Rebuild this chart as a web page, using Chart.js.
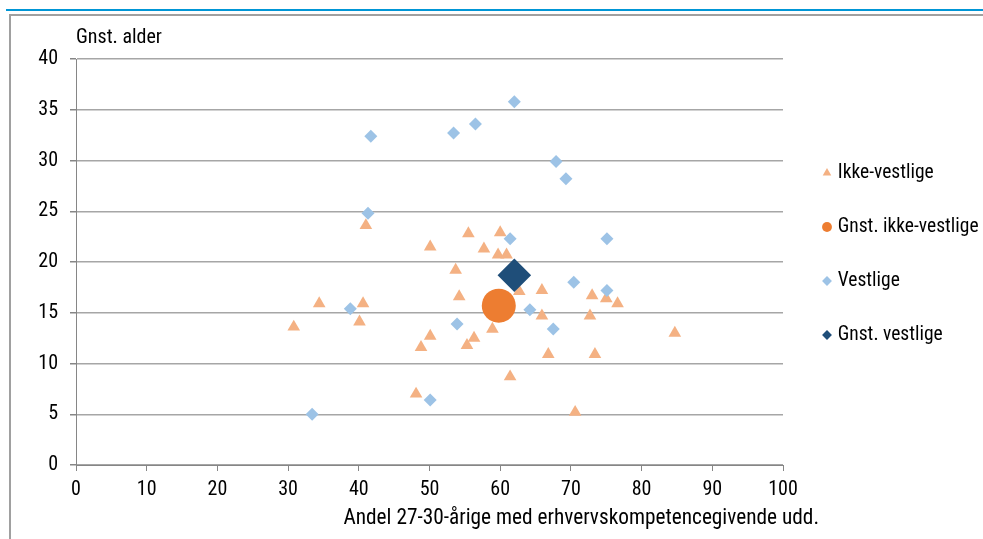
<!DOCTYPE html>
<html>
<head>
<meta charset="utf-8">
<script src="https://cdn.jsdelivr.net/npm/chart.js@4/dist/chart.umd.min.js"></script>
<style>
  html, body { margin: 0; padding: 0; width: 983px; height: 539px; overflow: hidden; background: #fff; }
  #blue { position: absolute; left: 6px; top: 9px; width: 977px; height: 2px; background: #0096D6; }
  #frame { position: absolute; left: 9px; top: 14px; width: 1000px; height: 600px; border-left: 2px solid #A0A0A0; border-top: 2px solid #A0A0A0; }
  #c { position: absolute; left: 11px; top: 16px; }
</style>
</head>
<body>
<div id="blue"></div>
<div id="frame"></div>
<canvas id="c" width="972" height="523"></canvas>
<script>
// ---- data ----
const seriesNames = ['Ikke-vestlige', 'Gnst. ikke-vestlige', 'Vestlige', 'Gnst. vestlige'];
const xTitle = 'Andel 27-30-årige med erhvervskompetencegivende udd.';
const yTitle = 'Gnst. alder';

const ikkeX = [41.0, 55.5, 60.0, 50.1, 57.7, 59.7, 60.9, 53.7, 62.7, 65.9, 54.2, 73.0, 75.0, 76.6, 34.4, 40.6,
               30.8, 40.1, 65.9, 72.7, 58.9, 50.1, 56.3, 55.3, 48.8, 66.8, 73.4, 84.7, 61.4, 48.1, 70.6];
const ikkeY = [23.6, 22.8, 22.9, 21.5, 21.3, 20.7, 20.7, 19.2, 17.1, 17.2, 16.6, 16.7, 16.4, 15.9, 15.9, 15.9,
               13.6, 14.1, 14.7, 14.7, 13.4, 12.7, 12.5, 11.8, 11.6, 10.9, 10.9, 13.0, 8.7, 7.0, 5.2];

const vestX = [62.0, 41.7, 53.4, 56.5, 67.9, 69.3, 41.3, 61.4, 75.1, 70.4, 75.1, 38.8, 64.2, 53.9, 67.5, 50.1, 33.4];
const vestY = [35.8, 32.4, 32.7, 33.6, 29.9, 28.2, 24.8, 22.3, 22.3, 18.0, 17.2, 15.4, 15.3, 13.9, 13.4, 6.4, 5.0];

const gnstIkkeX = [59.8];
const gnstIkkeY = [15.7];
const gnstVestX = [62.0];
const gnstVestY = [18.7];

const xTicks = [0, 10, 20, 30, 40, 50, 60, 70, 80, 90, 100];
const yTicks = [0, 5, 10, 15, 20, 25, 30, 35, 40];

// ---- build ----
const pts = (xs, ys) => xs.map((x, i) => ({ x: x, y: ys[i] }));
const FONT = "'Roboto Condensed', 'Liberation Sans', Arial, sans-serif";
const LEG = 19.5;       // legend font size
const LEG_PAD = 54 - LEG;

const titlesPlugin = {
  id: 'axisTitles',
  afterDraw(chart) {
    const { ctx, chartArea } = chart;
    ctx.save();
    ctx.fillStyle = '#000';
    ctx.textBaseline = 'middle';
    ctx.font = '20px ' + FONT;
    ctx.textAlign = 'left';
    ctx.fillText(yTitle, chartArea.left, 22);
    ctx.font = '21.3px ' + FONT;
    ctx.textAlign = 'right';
    ctx.fillText(xTitle, chartArea.right + 36, 503);
    ctx.restore();
  }
};

new Chart(document.getElementById('c'), {
  type: 'scatter',
  data: {
    datasets: [
      { label: seriesNames[0], data: pts(ikkeX, ikkeY), pointStyle: 'triangle', pointRadius: 7.3,
        backgroundColor: '#F4B183', borderWidth: 0, order: 3 },
      { label: seriesNames[1], data: pts(gnstIkkeX, gnstIkkeY), pointStyle: 'circle', pointRadius: 17,
        backgroundColor: '#ED7D31', borderWidth: 0, order: 2 },
      { label: seriesNames[2], data: pts(vestX, vestY), pointStyle: 'rectRot', pointRadius: 6.5,
        backgroundColor: '#9DC3E6', borderWidth: 0, order: 1 },
      { label: seriesNames[3], data: pts(gnstVestX, gnstVestY), pointStyle: 'rectRot', pointRadius: 16.8,
        backgroundColor: '#1F4E79', borderWidth: 0, order: 0 }
    ]
  },
  options: {
    responsive: false,
    animation: false,
    devicePixelRatio: 1,
    layout: { padding: { top: 43, left: 0, right: 0, bottom: 0 } },
    plugins: {
      tooltip: { enabled: false },
      legend: {
        position: 'right',
        align: 'start',
        maxWidth: 191.5,
        title: { display: true, text: ' ', font: { size: 10, lineHeight: 1 },
                 padding: { top: 157 - 43 - LEG_PAD - LEG / 2 - 10, bottom: 0 } },
        labels: {
          usePointStyle: true,
          boxWidth: 2,
          boxHeight: 7,
          padding: LEG_PAD,
          color: '#000',
          font: { family: FONT, size: LEG },
          sort: (a, b) => a.datasetIndex - b.datasetIndex
        }
      }
    },
    scales: {
      x: {
        type: 'linear',
        position: 'bottom',
        min: 0, max: 100,
        afterBuildTicks: (s) => { s.ticks = xTicks.map(v => ({ value: v })); },
        afterFit: (s) => { s.height = 74; },
        grid: { drawOnChartArea: false, drawTicks: true, tickLength: 6, color: '#868686', tickColor: '#868686' },
        border: { display: true, color: '#868686', width: 1 },
        ticks: { color: '#000', padding: 7, font: { family: FONT, size: 20 }, maxRotation: 0 }
      },
      y: {
        type: 'linear',
        position: 'left',
        min: 0, max: 40,
        afterBuildTicks: (s) => { s.ticks = yTicks.map(v => ({ value: v })); },
        afterFit: (s) => { s.width = 65; },
        grid: { drawOnChartArea: true, drawTicks: true, tickLength: 6, color: '#A6A6A6', lineWidth: 1.5, tickColor: '#868686' },
        border: { display: true, color: '#868686', width: 1 },
        ticks: { color: '#000', padding: 12, font: { family: FONT, size: 20 } }
      },
      gap: {
        type: 'linear',
        position: 'right',
        display: true,
        afterFit: (s) => { s.width = 816 - 772 - LEG_PAD - 1; },
        grid: { display: false, drawTicks: false },
        border: { display: false },
        ticks: { display: false }
      }
    }
  },
  plugins: [titlesPlugin]
});
</script>
</body>
</html>
